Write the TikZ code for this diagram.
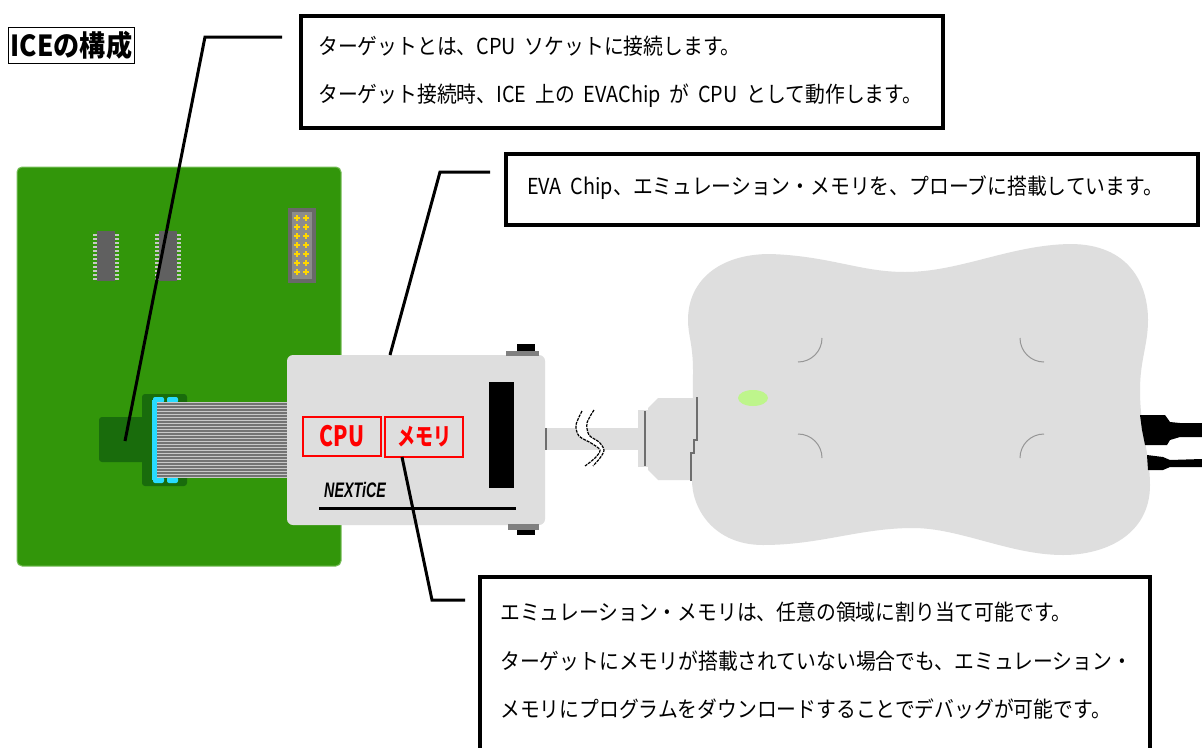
\documentclass[tikz,border=0pt]{standalone}
\usepackage{fontspec}
\usepackage{xcolor}
\setmainfont{Noto Sans CJK JP}[FakeStretch=0.9, WordSpace=2]
\newfontfamily\tagfont[FakeStretch=0.75]{Noto Sans CJK JP}
\newfontfamily\logofont[FakeStretch=0.68]{Liberation Sans}

\definecolor{pcbgreen}{RGB}{50,150,10}
\definecolor{pcbedge}{RGB}{120,190,90}
\definecolor{padgreen}{RGB}{25,108,12}
\definecolor{chipgray}{RGB}{96,96,96}
\definecolor{pingray}{RGB}{200,200,200}
\definecolor{hdrdark}{RGB}{105,105,105}
\definecolor{hdrmid}{RGB}{140,140,140}
\definecolor{pinyellow}{RGB}{255,215,0}
\definecolor{clipcyan}{RGB}{40,220,255}
\definecolor{ribbonlight}{RGB}{200,200,200}
\definecolor{ribbondark}{RGB}{115,115,115}
\definecolor{bodygray}{RGB}{222,222,222}
\definecolor{knobgray}{RGB}{128,128,128}
\definecolor{seamgray}{RGB}{110,110,110}
\definecolor{markgray}{RGB}{150,150,150}
\definecolor{ledgreen}{RGB}{190,245,140}

\begin{document}
\begin{tikzpicture}[
        x=1pt, y=-1pt,
        notebox/.style={draw=black, line width=4pt, fill=white, inner sep=0pt},
        notetext/.style={align=left, inner sep=0pt, font=\fontsize{22}{48}\selectfont},
        leader/.style={line width=3pt},
        redtag/.style={draw=red, line width=1.3pt, text=red, inner sep=0pt},
        breakline/.style={black, line width=1.2pt, dash pattern=on 3pt off 1pt}]
        \useasboundingbox (0,0) rectangle (1202,747);
        \clip (0,0) rectangle (1202,747);
        \fill[white] (0,0) rectangle (1202,747);

        % TARGET BOARD
        \fill[pcbgreen, draw=pcbedge, line width=1pt, rounded corners=5pt] (17,167) rectangle (341,566);
        % chips
        \foreach \cx in {106,168} {
            \fill[chipgray] (\cx-9,231) rectangle (\cx+9,281);
            \foreach \py in {234,238,...,278} {
                \fill[pingray] (\cx-13,\py) rectangle (\cx-9,\py+1.6);
                \fill[pingray] (\cx+9,\py) rectangle (\cx+13,\py+1.6);
            }
        }
        % header
        \fill[hdrdark] (288,208) rectangle (316,283);
        \fill[hdrmid] (292,212) rectangle (312,279);
        \foreach \px in {297,306}
            \foreach \py in {218,227,...,272}
                \draw[pinyellow, line width=1.6pt] (\px-3,\py) -- (\px+3,\py) (\px,\py-3) -- (\px,\py+3);
        % socket pad
        \fill[padgreen, rounded corners=3pt] (99,417) rectangle (145,462);
        \fill[padgreen, rounded corners=3pt] (142,394) rectangle (187,486);
        \foreach \bx in {153,167} {
            \fill[clipcyan, rounded corners=2pt] (\bx,397) rectangle (\bx+11,403);
            \fill[clipcyan, rounded corners=2pt] (\bx,477) rectangle (\bx+11,483);
        }
        \fill[clipcyan] (152,400) rectangle (157,480);
        % ribbon cable
        \fill[ribbonlight] (157,402) rectangle (288,478);
        \foreach \ry in {404,407,...,476}
            \draw[ribbondark, line width=1.4pt] (157,\ry) -- (288,\ry);

        % PROBE
        \fill[bodygray, rounded corners=6pt] (287,355) rectangle (545,525);
        \fill[knobgray] (506,351) rectangle (539,356);
        \fill[black] (517,344) rectangle (535,351);
        \fill[knobgray] (508,524) rectangle (539,530);
        \fill[black] (517,530) rectangle (535,535);
        \fill[black] (489,382) rectangle (514,488);
        \node[redtag, minimum width=78pt, minimum height=39pt,
              font=\tagfont\bfseries\fontsize{28}{28}\selectfont] (cpu) at (342,436.5) {CPU};
        \node[redtag, minimum width=78pt, minimum height=40pt,
              font=\tagfont\bfseries\fontsize{24}{24}\selectfont] (memtag) at (424,437) {メモリ};
        \node[anchor=west, inner sep=0pt,
              font=\logofont\bfseries\itshape\fontsize{21}{21}\selectfont] (logo) at (324,490) {NEXTiCE};
        \draw[line width=3pt] (319,508) -- (516,508);

        % cable with break
        \fill[bodygray] (545,428) rectangle (640,450);
        \draw[seamgray, line width=1.5pt] (546,428) -- (546,450) (639,428) -- (639,450);
        \fill[white] plot[smooth] coordinates {(582,411) (576,425) (579,436) (591,443) (600,450) (595,458) (585,466)}
            -- plot[smooth] coordinates {(593,466) (600,458) (604,450) (599,442) (589,435) (587,423) (594,410)} -- cycle;
        \draw[breakline] plot[smooth] coordinates {(582,411) (576,425) (579,436) (591,443) (600,450) (595,458) (585,466)};
        \draw[breakline] plot[smooth] coordinates {(594,410) (587,423) (589,435) (599,442) (604,450) (600,458) (593,466)};
        \fill[bodygray] (638,410) rectangle (648,467);
        \draw[seamgray, line width=1.5pt] (645,411) -- (645,466);
        \fill[bodygray] (648,408) -- (658,398) -- (700,398) -- (700,480) -- (658,480) -- (648,470) -- cycle;

        % EMULATOR POD
        \fill[bodygray] (770,254)
            .. controls (830,256) and (860,272) .. (905,272)
            .. controls (960,272) and (1010,245) .. (1070,244)
            .. controls (1130,244) and (1148,285) .. (1148,320)
            .. controls (1148,345) and (1140,360) .. (1140,390)
            .. controls (1140,430) and (1150,455) .. (1150,485)
            .. controls (1150,535) and (1105,555) .. (1063,555)
            .. controls (1010,555) and (960,528) .. (913,528)
            .. controls (860,528) and (820,545) .. (763,545)
            .. controls (715,545) and (692,510) .. (692,480)
            .. controls (692,430) and (693,400) .. (693,370)
            .. controls (693,345) and (688,335) .. (688,320)
            .. controls (688,280) and (720,254) .. (770,254) -- cycle;
        \draw[seamgray, line width=1.3pt] (697,397) -- (697,440) -- (694,440) -- (694,453) -- (691,453) -- (691,481);
        \fill[ledgreen] (753,398) ellipse [x radius=15pt, y radius=8pt];
        \draw[markgray, line width=1pt]
            (822,338) .. controls (822,351.3) and (811.3,362) .. (798,362)
            (1020,338) .. controls (1020,351.3) and (1030.7,362) .. (1044,362)
            (798,434) .. controls (811.3,434) and (822,444.7) .. (822,458)
            (1044,434) .. controls (1030.7,434) and (1020,444.7) .. (1020,458);
        % plugs
        \fill[black] (1140,415) -- (1165,415) -- (1170,422) -- (1180,423) -- (1202,423) -- (1202,437)
            -- (1180,437) -- (1170,440) -- (1167,445) -- (1145,445) -- (1142,430) -- cycle;
        \fill[black] (1147,455) -- (1163,457) -- (1170,460) -- (1202,459) -- (1202,467)
            -- (1170,467) -- (1163,470) -- (1148,470) -- cycle;

        % LEADERS
        \coordinate (targetlead) at (282,37);
        \coordinate (padtip) at (125,441);
        \coordinate (probelead) at (490,172);
        \coordinate (probetop) at (390,355);
        \coordinate (memfoot) at (402,457);
        \coordinate (memlead) at (465,600);
        \draw[leader] (targetlead) -- (205,37) -- (padtip);
        \draw[leader] (probelead) -- (440,172) -- (probetop);
        \draw[leader] (memfoot) -- (432,600) -- (memlead);

        % NOTES
        \node[draw=black, line width=1.6pt, inner sep=0pt, minimum width=126pt, minimum height=36pt,
              font=\bfseries\fontsize{29}{29}\selectfont] (title) at (71.5,45.5) {ICEの構成};
        \node[notebox, anchor=north west, minimum width=642pt, minimum height=112pt] (targetbox) at (299,14) {};
        \node[notetext, anchor=west] (targettext) at (318,72)
            {ターゲットとは、CPU ソケットに接続します。\\ターゲット接続時、ICE 上の EVAChip が CPU として動作します。};
        \node[notebox, anchor=north west, minimum width=692pt, minimum height=71pt] (probebox) at (504,152) {};
        \node[notetext, anchor=west] (probetext) at (527,188)
            {EVA Chip、エミュレーション・メモリを、プローブに搭載しています。};
        \node[notebox, draw=none, anchor=north west, minimum width=666pt, minimum height=200pt] (membox) at (480,577) {};
        \draw[line width=4pt] (membox.south west) -- (membox.north west) -- (membox.north east) -- (membox.south east);
        \node[notetext, anchor=west, font=\fontsize{22}{48.5}\selectfont] (memtext) at (500,661)
            {エミュレーション・メモリは、任意の領域に割り当て可能です。\\ターゲットにメモリが搭載されていない場合でも、エミュレーション・\\メモリにプログラムをダウンロードすることでデバッグが可能です。};
    \end{tikzpicture}
\end{document}
